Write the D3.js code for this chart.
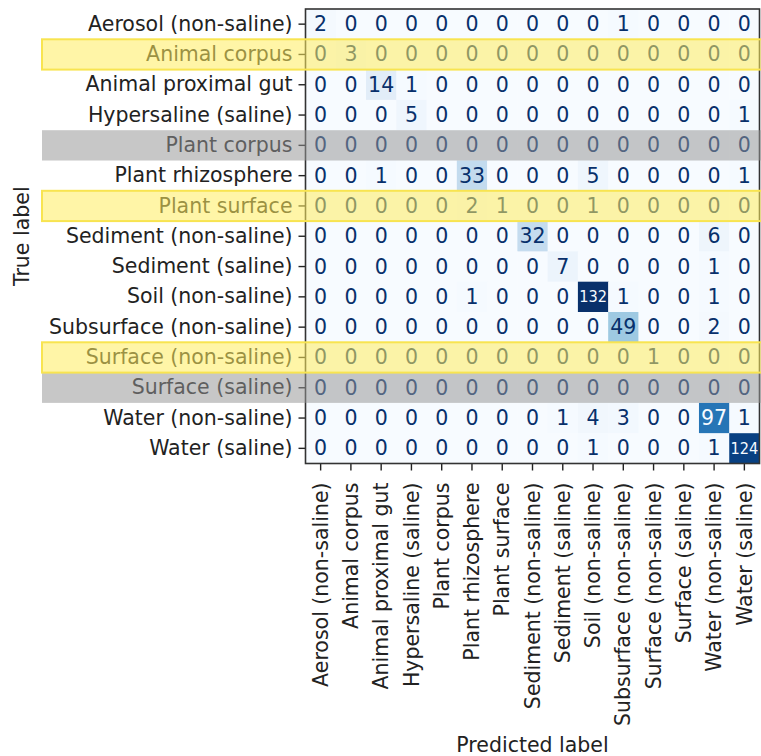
<!DOCTYPE html>
<html>
<head>
<meta charset="utf-8">
<script src="https://cdn.jsdelivr.net/npm/d3@7"></script>
<style>
  html, body { margin: 0; padding: 0; background: #fff; }
  svg { display: block; font-family: "DejaVu Sans", sans-serif; }
</style>
</head>
<body>
<svg id="chart" width="761" height="756"></svg>
<script>
// Class labels (true label rows, predicted label columns)
const labels = [
  "Aerosol (non-saline)", "Animal corpus", "Animal proximal gut",
  "Hypersaline (saline)", "Plant corpus", "Plant rhizosphere",
  "Plant surface", "Sediment (non-saline)", "Sediment (saline)",
  "Soil (non-saline)", "Subsurface (non-saline)", "Surface (non-saline)",
  "Surface (saline)", "Water (non-saline)", "Water (saline)"
];

// Confusion matrix counts, one array per true label
const counts = [
  [2, 0, 0, 0, 0, 0, 0, 0, 0, 0, 1, 0, 0, 0, 0],
  [0, 3, 0, 0, 0, 0, 0, 0, 0, 0, 0, 0, 0, 0, 0],
  [0, 0, 14, 1, 0, 0, 0, 0, 0, 0, 0, 0, 0, 0, 0],
  [0, 0, 0, 5, 0, 0, 0, 0, 0, 0, 0, 0, 0, 0, 1],
  [0, 0, 0, 0, 0, 0, 0, 0, 0, 0, 0, 0, 0, 0, 0],
  [0, 0, 1, 0, 0, 33, 0, 0, 0, 5, 0, 0, 0, 0, 1],
  [0, 0, 0, 0, 0, 2, 1, 0, 0, 1, 0, 0, 0, 0, 0],
  [0, 0, 0, 0, 0, 0, 0, 32, 0, 0, 0, 0, 0, 6, 0],
  [0, 0, 0, 0, 0, 0, 0, 0, 7, 0, 0, 0, 0, 1, 0],
  [0, 0, 0, 0, 0, 1, 0, 0, 0, 132, 1, 0, 0, 1, 0],
  [0, 0, 0, 0, 0, 0, 0, 0, 0, 0, 49, 0, 0, 2, 0],
  [0, 0, 0, 0, 0, 0, 0, 0, 0, 0, 0, 1, 0, 0, 0],
  [0, 0, 0, 0, 0, 0, 0, 0, 0, 0, 0, 0, 0, 0, 0],
  [0, 0, 0, 0, 0, 0, 0, 0, 1, 4, 3, 0, 0, 97, 1],
  [0, 0, 0, 0, 0, 0, 0, 0, 0, 1, 0, 0, 0, 1, 124]
];

// Rows marked with a highlight band
const yellowRows = ["Animal corpus", "Plant surface", "Surface (non-saline)"];
const greyRows = ["Plant corpus", "Surface (saline)"];

const xTitle = "Predicted label";
const yTitle = "True label";

const svg = d3.select("#chart");
const margin = { left: 305.5, top: 9, right: 1.5, bottom: 292.5 };
const W = 761, H = 756;
const plotW = W - margin.left - margin.right;
const plotH = H - margin.top - margin.bottom;
const fontSize = 20.5;
const wideFontSize = 16.5;

const x = d3.scaleBand().domain(d3.range(labels.length)).range([margin.left, margin.left + plotW]).padding(0);
const y = d3.scaleBand().domain(d3.range(labels.length)).range([margin.top, margin.top + plotH]).padding(0);

const vmax = d3.max(counts.flat());
const vmin = d3.min(counts.flat());
const color = d3.scaleSequential(d3.interpolateBlues).domain([vmin, vmax]);
const thresh = (vmax + vmin) / 2;

const cells = [];
counts.forEach((row, i) => row.forEach((v, j) => cells.push({ i, j, v })));

// Heatmap cells
svg.append("g").selectAll("rect").data(cells).join("rect")
  .attr("x", d => x(d.j))
  .attr("y", d => y(d.i))
  .attr("width", x.bandwidth() + 0.5)
  .attr("height", y.bandwidth() + 0.5)
  .attr("fill", d => color(d.v));

// Cell annotations; three-digit counts are set smaller to stay inside their cell
svg.append("g").selectAll("text").data(cells).join("text")
  .attr("x", d => x(d.j) + x.bandwidth() / 2)
  .attr("y", d => y(d.i) + y.bandwidth() / 2)
  .attr("text-anchor", "middle")
  .attr("dominant-baseline", "central")
  .attr("font-size", d => String(d.v).length >= 3 ? wideFontSize : fontSize)
  .attr("fill", d => d.v < thresh ? color(vmax) : color(vmin))
  .each(function (d) {
    if (String(d.v).length >= 3) {
      d3.select(this)
        .attr("textLength", x.bandwidth() - 2.5)
        .attr("lengthAdjust", "spacingAndGlyphs");
    }
  })
  .text(d => d.v);

// Axes
const yAxis = d3.axisLeft(y).tickFormat(i => labels[i]).tickSize(7).tickPadding(6);
const xAxis = d3.axisBottom(x).tickFormat(i => labels[i]).tickSize(7).tickPadding(6);

const gy = svg.append("g").attr("transform", `translate(${margin.left},0)`).call(yAxis);
const gx = svg.append("g").attr("transform", `translate(0,${margin.top + plotH})`).call(xAxis);

[gx, gy].forEach(g => {
  g.select(".domain").remove();
  g.selectAll(".tick line").attr("stroke", "#222").attr("stroke-width", 1.4);
  g.selectAll(".tick text").attr("font-size", fontSize).attr("fill", "#222")
    .attr("font-family", "DejaVu Sans, sans-serif");
});

gx.selectAll(".tick text")
  .attr("transform", "rotate(-90)")
  .attr("text-anchor", "end")
  .attr("x", -19)
  .attr("y", 0)
  .attr("dy", "0.35em");

// Frame around the matrix
svg.append("rect")
  .attr("x", margin.left).attr("y", margin.top)
  .attr("width", plotW).attr("height", plotH)
  .attr("fill", "none").attr("stroke", "#333").attr("stroke-width", 1.6);

// Axis titles
svg.append("text")
  .attr("x", margin.left + plotW / 2)
  .attr("y", 752)
  .attr("text-anchor", "middle")
  .attr("font-size", fontSize).attr("fill", "#222")
  .text(xTitle);

svg.append("text")
  .attr("transform", `translate(29,${margin.top + plotH / 2}) rotate(-90)`)
  .attr("text-anchor", "middle")
  .attr("font-size", fontSize).attr("fill", "#222")
  .text(yTitle);

// Highlight bands across selected rows
const bandX0 = 42;
svg.append("g").selectAll("rect").data(greyRows).join("rect")
  .attr("x", bandX0)
  .attr("y", d => y(labels.indexOf(d)))
  .attr("width", W - bandX0 + 5)
  .attr("height", y.bandwidth())
  .attr("fill", "rgb(150,150,150)")
  .attr("fill-opacity", 0.53);

svg.append("g").selectAll("rect").data(yellowRows).join("rect")
  .attr("x", bandX0)
  .attr("y", d => y(labels.indexOf(d)))
  .attr("width", W - bandX0 + 5)
  .attr("height", y.bandwidth())
  .attr("fill", "rgb(255,236,95)")
  .attr("fill-opacity", 0.55)
  .attr("stroke", "rgb(248,228,80)")
  .attr("stroke-width", 2);
</script>
</body>
</html>
